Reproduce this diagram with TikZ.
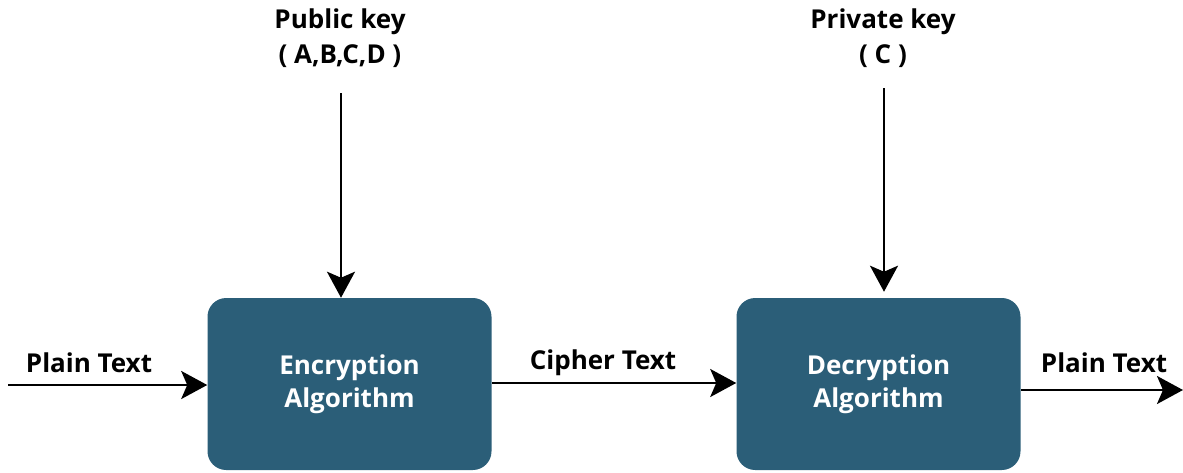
\documentclass[tikz,border=0pt]{standalone}
\usepackage{fontspec}
\setmainfont{Open Sans}
\usetikzlibrary{arrows.meta}
\definecolor{boxblue}{HTML}{2B5E78}
\tikzset{
  algo/.style={draw=none, fill=boxblue, rounded corners=14pt, minimum width=213pt,
    minimum height=129pt, text=white, align=center, font=\fontsize{19.5}{25}\selectfont\bfseries},
  lbl/.style={font=\fontsize{19.5}{26}\selectfont\bfseries, align=center, inner sep=0pt},
  flow/.style={line width=1.8pt, -{Stealth[length=19.5pt,width=21pt,inset=4.5pt]}}
}
\begin{document}
\begin{tikzpicture}[x=0.75pt, y=-0.75pt]
  \useasboundingbox (0,0) rectangle (1183,472);
  % processing boxes
  \node[algo] (enc) at (349.5,384) {Encryption\\Algorithm};
  \node[algo] (dec) at (878.5,384) {Decryption\\Algorithm};
  % key labels
  \node[lbl] (pub) at (340,38) {Public key\\( A,B,C,D )};
  \node[lbl] (priv) at (883,38) {Private key\\( C )};
  % plain text in / out
  \coordinate (in) at (8,385);
  \coordinate (out) at (1183,390);
  \coordinate (pubtop) at (341,93);
  \coordinate (privtop) at (884,88);
  \draw[flow] (in) -- (in -| enc.west);
  \draw[flow] (dec.east |- out) -- (out);
  \draw[flow] ([yshift=0.75pt]enc.east) -- ([yshift=0.75pt]dec.west);
  \draw[flow] (pubtop) -- (pubtop |- enc.north);
  \draw[flow] (privtop) -- ([yshift=4.5pt]privtop |- dec.north);
  % connector labels
  \node[lbl] at (89,363) {Plain Text};
  \node[lbl] at (603,363) {Cipher Text};
  \node[lbl] at (1104,363) {Plain Text};
\end{tikzpicture}
\end{document}
